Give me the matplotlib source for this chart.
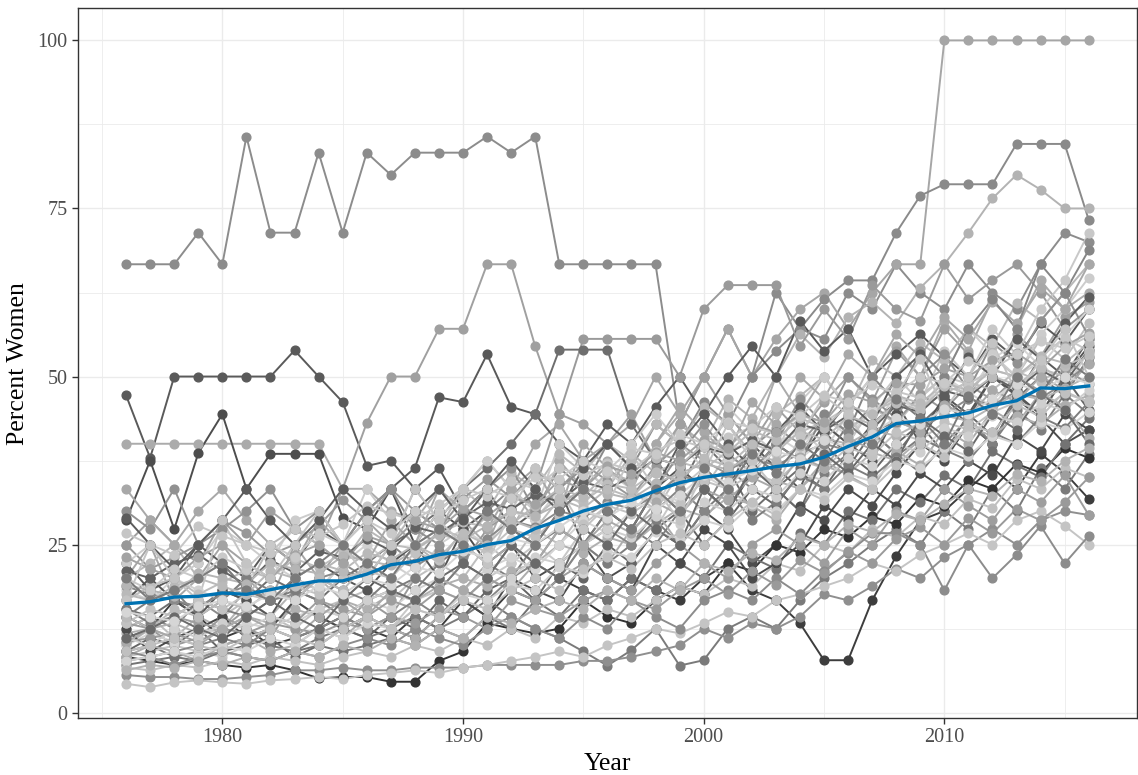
import numpy as np
import matplotlib
matplotlib.use("Agg")
import matplotlib.pyplot as plt
from matplotlib.ticker import MultipleLocator

plt.rcParams['font.family'] = ['Liberation Serif', 'DejaVu Serif']

years = list(range(1976, 2017))

# percent women per department, 1976..2016
dept_01 = [66.7, 66.7, 66.7, 71.4, 66.7, 85.7, 71.4, 71.4, 83.3, 71.4,
           83.3, 80, 83.3, 83.3, 83.3, 85.7, 83.3, 85.7, 66.7, 66.7,
           66.7, 66.7, 66.7, 42.9, 50, 57.1, 50, 62.5, 57.1, 55.6,
           62.5, 60, 66.7, 62.5, 60, 66.7, 62.5, 60, 66.7, 71.4, 70]
dept_02 = [20, 25, 16.7, 20, 25, 20, 16.7, 25, 20, 25,
           28.6, 25, 33.3, 28.6, 33.3, 37.5, 33.3, 40, 42.9, 37.5,
           40, 42.9, 50, 44.4, 50, 57.1, 50, 55.6, 60, 62.5,
           57.1, 62.5, 66.7, 66.7, 100, 100, 100, 100, 100, 100, 100]
dept_03 = [12.5, 14.3, 12.5, 16.7, 14.3, 18.2, 16.7, 20, 18.2, 22.2,
           20, 25, 22.2, 27.3, 25, 30, 33.3, 30, 36.4, 33.3,
           40, 36.4, 42.9, 40, 46.2, 42.9, 50, 53.8, 57.1, 61.5,
           64.3, 64.3, 71.4, 76.9, 78.6, 78.6, 78.6, 84.6, 84.6, 84.6, 73.3]
dept_04 = [10, 12.5, 11.1, 14.3, 12.5, 16.7, 14.3, 18.2, 20, 16.7,
           20, 22.2, 25, 22.2, 27.3, 30, 27.3, 33.3, 30, 36.4,
           33.3, 38.5, 35.7, 42.9, 40, 46.7, 43.8, 50, 56.3, 52.9,
           58.8, 61.1, 57.9, 63.2, 66.7, 71.4, 76.5, 80, 77.8, 75, 75]
dept_05 = [47.2, 37.9, 50, 50, 50, 50, 50, 53.9, 50, 46.2,
           36.7, 37.5, 33.3, 36.4, 30, 33.3, 27.3, 30, 33.3, 25,
           30, 27.3, 33.3, 30, 36.4, 33.3, 40, 36.4, 33.3, 41.7,
           38.5, 42.9, 46.2, 40, 46.7, 43.8, 50, 47.1, 52.9, 50, 55.6]
dept_06 = [40, 40, 40, 40, 40, 40, 40, 40, 40, 33.3,
           33.3, 30, 28.6, 33.3, 28.6, 25, 33.3, 28.6, 37.5, 33.3,
           37.5, 33.3, 40, 44.4, 37.5, 44.4, 40, 50, 44.4, 50,
           45.5, 50, 54.5, 50, 58.3, 53.8, 61.5, 57.1, 64.3, 60, 62.5]
dept_07 = [25, 28.6, 25, 22.2, 28.6, 25, 30, 27.3, 25, 33.3,
           43.1, 50, 50, 57.1, 57.1, 66.7, 66.7, 54.5, 44.4, 42.9,
           40, 44.4, 37.5, 42.9, 50, 44.4, 40, 45.5, 41.7, 46.2,
           50, 46.2, 53.8, 50, 57.1, 53.3, 50, 56.3, 52.9, 58.8, 61.1]
dept_08 = [28.6, 37.5, 27.3, 38.6, 44.4, 33.3, 38.5, 38.5, 38.5, 29,
           27.3, 33.3, 25, 30, 27.3, 22.2, 25, 20, 22.2, 25,
           20, 22.2, 27.3, 25, 30, 27.3, 22.2, 25, 30.8, 28.6,
           33.3, 30.8, 35.7, 40, 37.5, 42.9, 40, 46.7, 43.8, 40, 42.1]
dept_09 = [22.2, 18.2, 20, 25, 22.2, 20, 25, 22.2, 27.3, 25,
           30, 33.3, 36.4, 46.9, 46.2, 53.3, 45.5, 44.4, 40, 37.5,
           42.9, 40, 45.5, 50, 44.4, 50, 54.5, 50, 58.3, 53.8,
           57.1, 50, 53.3, 56.3, 52.9, 50, 55.6, 52.6, 57.9, 55, 60]
dept_10 = [15.4, 14.3, 16.7, 15.4, 18.2, 16.7, 20, 18.2, 16.7, 20,
           22.2, 25, 27.3, 30, 33.3, 36.4, 40, 44.4, 54, 54,
           54, 42.9, 37.5, 33.3, 40, 36.4, 30, 33.3, 36.4, 40,
           36.4, 41.7, 38.5, 42.9, 46.2, 42.9, 40, 46.7, 50, 47.1, 52.9]
dept_11 = [11.1, 12.5, 10, 11.1, 14.3, 12.5, 11.1, 16.7, 14.3, 12.5,
           16.7, 14.3, 20, 18.2, 22.2, 27.3, 30, 33.3, 44.4, 55.6,
           55.6, 55.6, 55.6, 50, 60, 63.6, 63.6, 63.6, 54.5, 60,
           55.6, 63.6, 60, 58.3, 66.7, 61.5, 64.3, 66.7, 62.5, 57.1, 60]
dept_12 = [14.3, 12.5, 16.7, 14.3, 11.1, 12.5, 10, 11.1, 12.5, 14.3,
           12.5, 11.1, 14.3, 12.5, 16.7, 14.3, 18.2, 16.7, 20, 18.2,
           16.7, 20, 18.2, 16.7, 20, 22.2, 18.2, 16.7, 13.3, 7.8,
           7.8, 16.7, 23.3, 28.6, 30, 33.3, 36.4, 33.3, 38.5, 35.7, 31.8]
dept_13 = [9.1, 10, 8.3, 9.1, 10, 11.1, 10, 9.1, 11.1, 12.5,
           11.1, 12.5, 14.3, 12.5, 14.3, 16.7, 14.3, 12.5, 11.1, 9.1,
           7, 9.3, 12.5, 7, 7.8, 12.5, 14.3, 12.5, 16.7, 20,
           22.2, 25, 27.3, 25, 30, 27.3, 33.3, 30, 36.4, 33.3, 38.5]
dept_14 = [8.3, 7.7, 7.1, 7.7, 7.1, 6.7, 7.1, 6.3, 5.1, 5.3,
           5.3, 4.6, 4.6, 7.7, 9.1, 13.3, 12.5, 11.8, 12.5, 16.7,
           14.3, 13.3, 16.7, 18.8, 17.6, 22.2, 21.1, 25, 23.8, 27.3,
           26.1, 29.2, 28, 32, 30.8, 34.6, 33.3, 37, 35.7, 39.3, 37.9]
dept_15 = [5.6, 5.3, 5.3, 5, 5, 5.3, 5.6, 6.3, 6.3, 6.7,
           6.3, 6.3, 6.7, 6.7, 6.7, 7.1, 7.1, 7.1, 7.1, 7.7,
           7.7, 8.3, 9.1, 10, 12.5, 11.1, 13.3, 12.5, 14.3, 17.6,
           16.7, 18.8, 21.4, 20, 23.1, 25, 27.3, 25, 28.6, 30, 29.4]
dept_16 = [4.3, 3.8, 4.5, 4.8, 4.5, 4.3, 4.8, 5, 5.3, 5,
           5.6, 5.9, 6.3, 5.9, 6.7, 7.1, 7.7, 8.3, 9.1, 8.3,
           10, 11.1, 12.5, 11.8, 13.3, 15, 14.3, 16.7, 17.6, 18.8,
           20, 22.2, 21.1, 23.5, 25, 26.7, 25, 28.6, 30, 27.8, 25]
dept_17 = [12.5, 14.3, 11.1, 12.5, 14.3, 16.7, 14.3, 12.5, 15.4, 16.7,
           18.2, 16.7, 20, 22.2, 20, 25, 22.2, 27.3, 25, 30,
           28.6, 33.3, 30, 35.7, 33.3, 38.5, 35.7, 40, 37.5, 42.9,
           40, 45.5, 42.9, 47.1, 50, 46.7, 52.9, 50, 55.6, 52.6, 57.9]
dept_18 = [18.2, 16.7, 20, 18.2, 16.7, 20, 22.2, 20, 18.2, 22.2,
           25, 22.2, 20, 25, 27.3, 25, 30, 28.6, 33.3, 30.8,
           35.7, 33.3, 30.8, 36.4, 40, 37.5, 35.3, 40, 42.1, 38.9,
           44.4, 42.1, 47.4, 45, 50, 47.6, 45.5, 50, 52.2, 48, 53.8]
dept_19 = [9.1, 11.1, 10, 12.5, 9.1, 10, 11.1, 8.3, 10, 12.5,
           11.1, 14.3, 12.5, 16.7, 14.3, 18.2, 20, 16.7, 22.2, 20,
           25, 22.2, 27.3, 30, 25, 28.6, 33.3, 30.8, 35.7, 33.3,
           38.5, 35.7, 40, 42.9, 38.5, 44.4, 41.2, 47.1, 44.4, 50, 45]
dept_20 = [20, 22.2, 25, 20, 22.2, 18.2, 25, 27.3, 25, 22.2,
           27.3, 25, 30, 27.3, 33.3, 30, 35.7, 33.3, 38.5, 35.7,
           40, 37.5, 42.9, 40, 45.5, 42.9, 38.5, 44.4, 47.1, 50,
           45, 52.4, 50, 55, 52.4, 57.1, 54.5, 60.9, 58.3, 62.5, 66.7]
dept_21 = [14.3, 16.7, 18.2, 14.3, 16.7, 20, 18.2, 16.7, 20, 18.2,
           16.7, 20, 18.2, 22.2, 25, 22.2, 20, 25, 27.3, 25,
           30, 27.3, 25, 30, 33.3, 30, 36.4, 33.3, 30, 35.7,
           38.5, 41.7, 38.5, 35.7, 40, 43.8, 40, 45, 42.1, 47.4, 44.4]
dept_22 = [8.3, 9.1, 10, 9.1, 8.3, 10, 12.5, 11.1, 10, 12.5,
           14.3, 12.5, 16.7, 18.2, 16.7, 20, 22.2, 25, 22.2, 27.3,
           25, 30, 27.3, 33.3, 36.4, 33.3, 38.5, 35.7, 40, 42.9,
           40, 45.5, 50, 46.2, 53.8, 50, 57.1, 53.3, 60, 64.3, 71.4]
dept_23 = [25, 21.4, 23.1, 25, 28.6, 26.7, 23.5, 25, 27.8, 31.6,
           28.6, 33.3, 30, 27.3, 31.8, 34.8, 32, 36, 33.3, 37,
           34.5, 32.1, 36.7, 40, 37.5, 35.5, 39.4, 42.4, 40, 44.1,
           41.7, 45.7, 43.2, 47.4, 45, 48.8, 46.5, 50, 47.8, 51.1, 48.9]
dept_24 = [16.7, 20, 16.7, 14.3, 18.2, 16.7, 14.3, 20, 22.2, 20,
           18.2, 22.2, 25, 20, 27.3, 30, 27.3, 25, 30, 33.3,
           30, 27.3, 33.3, 36.4, 33.3, 30, 35.7, 40, 37.5, 42.9,
           40, 37.5, 44.4, 41.2, 47.1, 44.4, 50, 47.4, 44.4, 50, 54.5]
dept_25 = [11.8, 12.5, 13.3, 11.8, 12.5, 14.3, 13.3, 15.4, 14.3, 16.7,
           15.4, 17.6, 16.7, 18.8, 20, 18.8, 21.1, 22.2, 25, 23.8,
           26.1, 25, 28, 30.4, 29.2, 32, 31, 34.5, 33.3, 36.7,
           35.5, 38.7, 37.5, 40.6, 39.4, 42.4, 41.2, 44.1, 42.9, 45.7, 47.2]
dept_26 = [22.2, 25, 20, 22.2, 27.3, 25, 22.2, 28.6, 30, 25,
           33.3, 28.6, 25, 30, 33.3, 37.5, 33.3, 30, 40, 36.4,
           33.3, 40, 44.4, 40, 36.4, 45.5, 41.7, 38.5, 46.2, 50,
           45.5, 50, 46.2, 53.8, 50, 57.1, 53.3, 50, 56.3, 60, 64.7]
dept_27 = [7.1, 7.7, 8.3, 7.7, 9.1, 8.3, 7.7, 9.1, 10, 9.1,
           10, 11.1, 10, 12.5, 11.1, 14.3, 12.5, 16.7, 14.3, 18.2,
           16.7, 20, 18.2, 22.2, 20, 25, 23.1, 21.4, 26.7, 25,
           30, 28.6, 33.3, 31.3, 35.3, 33.3, 38.9, 36.8, 35, 40, 43.8]
dept_28 = [33.3, 28.6, 25, 30, 33.3, 28.6, 25, 22.2, 28.6, 25,
           22.2, 28.6, 25, 33.3, 30, 27.3, 33.3, 36.4, 30, 40,
           36.4, 33.3, 40, 45.5, 41.7, 38.5, 46.2, 42.9, 50, 46.7,
           53.3, 50, 56.3, 52.9, 58.8, 55.6, 61.1, 57.9, 63.2, 60, 66.7]
dept_29 = [6.7, 6.3, 7.1, 6.7, 7.7, 7.1, 8.3, 7.7, 7.1, 8.3,
           9.1, 8.3, 10, 9.1, 11.1, 10, 12.5, 11.1, 14.3, 13.3,
           15.4, 14.3, 16.7, 18.8, 17.6, 20, 18.8, 22.2, 21.1, 25,
           23.8, 27.3, 26.1, 29.2, 28, 31.8, 30.4, 34.8, 33.3, 36.4, 35]
dept_30 = [18.8, 17.6, 16.7, 15.8, 17.6, 18.8, 16.7, 17.6, 20, 21.1,
           20, 22.7, 21.7, 24, 23.1, 25.9, 28.6, 27.6, 30, 29,
           31.3, 30.3, 32.4, 35.3, 34.3, 36.1, 37.8, 36.8, 38.5, 40,
           39, 41.9, 43.2, 42.2, 44.4, 46.7, 45.7, 47.8, 46.8, 49, 52]
dept_31 = [12.5, 9.1, 11.1, 12.5, 14.3, 11.1, 12.5, 16.7, 14.3, 12.5,
           14.3, 12.5, 11.1, 14.3, 16.7, 14.3, 20, 18.2, 16.7, 22.2,
           20, 18.2, 25, 22.2, 27.3, 25, 20, 22.2, 25, 30.8,
           28.6, 33.3, 30.8, 35.7, 33.3, 37.5, 35.3, 41.2, 38.9, 44.4, 42.1]
dept_32 = [16.7, 18.8, 20, 17.6, 19.4, 21.2, 20, 22.9, 21.6, 23.7,
           22.5, 25, 24.4, 26.7, 28.3, 27.7, 30, 29.2, 32, 31.4,
           34, 33.3, 35.8, 37.3, 36.2, 38.9, 40.4, 39.3, 41.7, 43.3,
           42.1, 44.8, 46.4, 45.5, 47.5, 49.2, 48, 50.8, 49.2, 51.6, 53.1]
dept_33 = [30, 27.3, 33.3, 25, 27.3, 30, 33.3, 27.3, 30, 25,
           30, 33.3, 27.3, 25, 30, 33.3, 36.4, 30, 33.3, 36.4,
           40, 36.4, 33.3, 38.5, 42.9, 38.5, 35.7, 40, 46.7, 42.9,
           50, 46.7, 43.8, 50, 53.3, 48, 55, 52, 58.3, 62.5, 56]
dept_34 = [10, 11.8, 10.5, 12.5, 11.8, 13.3, 12.5, 14.3, 15.4, 14.3,
           16.7, 15.4, 18.2, 20, 18.2, 21.4, 23.1, 21.4, 25, 28.6,
           26.7, 30, 33.3, 31.3, 35.3, 33.3, 37.5, 41.2, 38.9, 43.8,
           41.2, 45, 47.4, 44.4, 50, 47.4, 52.6, 55, 51.5, 56, 60]
dept_35 = [21.1, 20, 22.2, 23.5, 21.1, 19, 22.7, 20.8, 24, 23.1,
           25.9, 24.1, 27.6, 26.7, 29, 31.3, 30.3, 32.4, 31.4, 34.3,
           33.3, 35.1, 37.8, 36.8, 39.5, 38.5, 40.5, 39, 42.9, 41.9,
           44.2, 42.2, 45.7, 44.7, 47.9, 46.9, 50, 48, 51, 49, 54]
dept_36 = [8.3, 10, 9.1, 7.7, 10, 11.1, 9.1, 10, 12.5, 11.1,
           14.3, 12.5, 11.1, 14.3, 16.7, 20, 18.2, 22.2, 20, 25,
           22.2, 27.3, 30, 25, 28.6, 33.3, 30.8, 28.6, 33.3, 37.5,
           35.3, 33.3, 38.9, 36.8, 42.1, 40, 45, 42.9, 47.6, 45.5, 40.9]
dept_37 = [15.4, 13.3, 14.3, 16.7, 15.4, 14.3, 16.7, 18.2, 16.7, 14.3,
           16.7, 18.2, 20, 18.2, 22.2, 20, 25, 22.2, 27.3, 25,
           22.2, 25, 28.6, 25, 30, 33.3, 28.6, 31.3, 35.3, 33.3,
           36.8, 35, 38.1, 40.9, 39.1, 37.5, 41.7, 40, 44, 42.3, 46.2]
dept_38 = [26.7, 25, 23.5, 27.8, 26.3, 25, 23.8, 27.3, 26.1, 28,
           30.8, 29.6, 28.6, 31, 33.3, 32.3, 34.4, 33.3, 36.4, 35.3,
           37.1, 36.1, 38.9, 40.5, 39.5, 41, 42.5, 41.5, 44.2, 43.2,
           45.5, 44.4, 47.8, 46.8, 50, 48.9, 51, 50, 52.9, 55.8, 53.8]
dept_39 = [13.3, 12.5, 14.3, 13.3, 12.5, 15.4, 14.3, 13.3, 16.7, 15.4,
           14.3, 16.7, 15.4, 18.2, 16.7, 20, 18.2, 16.7, 20, 22.2,
           20, 18.2, 22.2, 25, 22.2, 20, 25, 27.3, 25, 22.2,
           27.3, 25, 30, 28.6, 33.3, 30.8, 28.6, 33.3, 31.3, 35.3, 29.4]
dept_40 = [9.1, 8.3, 9.1, 10, 11.1, 10, 12.5, 11.1, 12.5, 14.3,
           12.5, 14.3, 16.7, 14.3, 18.2, 16.7, 20, 22.2, 20, 25,
           27.3, 25, 30, 33.3, 30, 36.4, 33.3, 40, 37.5, 44.4,
           41.7, 50, 46.2, 53.8, 50, 57.1, 61.5, 57.1, 66.7, 62.5, 68.8]
dept_41 = [7.7, 8.3, 7.1, 8.3, 9.1, 8.3, 7.7, 9.1, 8.3, 10,
           11.1, 10, 12.5, 11.1, 10, 12.5, 14.3, 12.5, 11.1, 14.3,
           12.5, 16.7, 14.3, 12.5, 16.7, 18.2, 16.7, 20, 17.6, 21.1,
           23.8, 26.7, 26.7, 25, 18.2, 25, 20, 23.5, 27.8, 22.2, 26.3]
dept_42 = [10.5, 11.1, 11.8, 10.5, 12.5, 11.8, 13.3, 12.5, 11.8, 13.3,
           12.5, 14.3, 13.3, 15.4, 14.3, 12.5, 16.7, 15.4, 14.3, 16.7,
           18.2, 16.7, 15.4, 18.2, 20, 17.6, 21.1, 19, 22.7, 20.8,
           24, 22.2, 25.9, 27.6, 25, 29, 26.7, 30.3, 28.6, 31.3, 35]
dept_43 = [29, 25, 21.4, 25, 28.6, 33.3, 28.6, 25, 28.6, 33.3,
           30, 27.3, 30, 33.3, 28.6, 33.3, 37.5, 33.3, 30, 36.4,
           40, 36.4, 33.3, 40, 44.4, 40, 36.4, 41.7, 45.5, 41.7,
           46.2, 42.9, 50, 53.3, 47.1, 52.9, 50, 55.6, 52.6, 57.9, 61.9]
dept_44 = [19, 18.2, 17.4, 20.8, 20, 19.2, 22.2, 21.4, 20.7, 23.3,
           22.6, 21.9, 24.2, 26.5, 25.7, 27.8, 30, 29.3, 31, 33.3,
           32.6, 31.8, 34.1, 35.6, 37, 36.2, 38.3, 37.5, 39.6, 40.8,
           40, 42, 41.2, 43.1, 44.2, 43.4, 45.5, 47.4, 46.6, 48.3, 50]
dept_45 = [13.3, 15.4, 14.3, 16.7, 15.4, 17.6, 16.7, 18.8, 17.6, 20,
           21.1, 20, 23.8, 22.7, 25, 24, 27.3, 26.1, 29.2, 28,
           30.8, 29.6, 32.1, 31, 34.5, 33.3, 35.5, 34.4, 37.5, 36.4,
           39.4, 38.2, 41.7, 40.5, 43.2, 42.1, 44.7, 46.2, 45, 47.5, 46.3]
dept_46 = [17.6, 16.7, 18.8, 20, 18.8, 17.6, 21.1, 20, 22.2, 21.1,
           23.8, 22.7, 25, 27.3, 26.1, 29.2, 28, 30.8, 33.3, 32.1,
           35.7, 34.5, 37.9, 36.7, 40, 38.7, 41.9, 40.6, 43.8, 42.4,
           45.7, 44.4, 47.2, 46, 49, 48, 51, 50, 53, 52, 55]
dept_47 = [11.1, 10, 12.5, 11.1, 13.3, 12.5, 14.3, 13.3, 15.4, 14.3,
           16.7, 18.2, 16.7, 20, 18.2, 21.4, 20, 23.1, 22.2, 25,
           27.3, 26.1, 29.2, 28, 31.3, 30, 33.3, 32.1, 35.7, 34.5,
           37.9, 36.7, 40, 38.7, 42.4, 41.2, 44.1, 43.2, 46, 45, 48]
dept_48 = [23.1, 21.4, 20, 23.1, 25, 22.2, 20, 23.5, 25, 22.2,
           26.3, 25, 28.6, 27.3, 30.4, 29.2, 32, 31, 34.6, 33.3,
           36.7, 35.5, 38.7, 37.5, 40.6, 39.4, 42.9, 41.7, 44.4, 43.2,
           47.4, 46.2, 49, 48.8, 51.2, 50, 52.4, 53.5, 51.1, 54.5, 56.5]
dept_49 = [7.7, 8.3, 9.1, 8.3, 10, 9.1, 11.1, 10, 12.5, 11.1,
           13.3, 12.5, 15.4, 14.3, 17.6, 16.7, 19, 18.2, 21.7, 20.8,
           24, 23.1, 26.9, 25.9, 28.6, 27.6, 31, 30, 33.3, 32.3,
           35.5, 34.4, 37.5, 36.4, 39.4, 38.2, 41.2, 40, 43.2, 42.1, 44.7]
dept_50 = [14.3, 12.5, 15.4, 14.3, 16.7, 15.4, 18.2, 16.7, 20, 18.2,
           22.2, 20, 25, 23.1, 26.7, 25, 28.6, 27.3, 31.8, 30.4,
           33.3, 32, 35.7, 34.5, 37.9, 36.7, 40, 38.7, 41.9, 40.6,
           44.1, 42.9, 46, 45, 48.6, 47.4, 50, 48.8, 51.2, 50, 53.5]
dept_51 = [10.5, 12.5, 11.1, 10, 12.5, 14.3, 12.5, 11.1, 14.3, 16.7,
           14.3, 18.2, 16.7, 20, 18.2, 22.2, 25, 22.2, 27.3, 25,
           28.6, 26.7, 31.3, 29.4, 33.3, 31.6, 35, 33.3, 38.1, 36.4,
           40.9, 39.1, 43.5, 41.7, 45.8, 44, 48, 46.2, 50, 48.1, 51.9]
dept_52 = [20, 18.2, 21.4, 20, 23.1, 21.4, 25, 23.1, 26.7, 25,
           28.6, 26.7, 30, 29.4, 31.6, 33.3, 32, 35, 34.8, 37.5,
           36, 39.3, 38.5, 41.4, 40, 43.3, 42.4, 45.5, 44.1, 47.2,
           46.2, 48.7, 47.5, 50, 49, 52.3, 51.1, 53.3, 55.3, 54.2, 56]
dept_53 = [11.1, 12.5, 14.3, 12.5, 11.1, 14.3, 16.7, 14.3, 12.5, 16.7,
           20, 18.2, 16.7, 20, 22.2, 20, 25, 22.2, 20, 27.3,
           25, 30, 27.3, 25, 33.3, 30, 36.4, 33.3, 30, 38.5,
           35.7, 40, 37.5, 43.8, 41.2, 38.9, 44.4, 42.1, 47.4, 45, 40]
dept_54 = [16.7, 25, 20, 16.7, 28.6, 22.2, 20, 25, 30, 25,
           20, 25, 33.3, 28.6, 25, 22.2, 30, 36.4, 33.3, 27.3,
           30.8, 38.5, 33.3, 28.6, 35.7, 42.9, 37.5, 33.3, 41.2, 47.1,
           44.4, 38.9, 47.4, 52.6, 45, 50, 55, 47.6, 52.4, 57.1, 50]
dept_55 = [6.3, 7.1, 6.7, 7.7, 7.1, 8.3, 7.7, 9.1, 8.3, 10,
           9.1, 11.1, 10, 12.5, 11.1, 14.3, 13.3, 15.4, 16.7, 15.4,
           18.2, 16.7, 20, 18.2, 22.2, 21.1, 23.8, 22.7, 26.1, 25,
           28, 26.9, 29.6, 28.6, 31, 33.3, 32.3, 35.5, 34.4, 37.5, 39.4]
dept_56 = [15, 14.3, 13.6, 15.8, 16.7, 15.8, 17.6, 16.7, 18.8, 17.6,
           20, 19, 21.7, 20.8, 24, 23.1, 25.9, 25, 27.6, 30,
           29, 31.3, 30.3, 32.4, 35.3, 34.3, 36.1, 38.9, 37.8, 40.5,
           39.5, 41.5, 43.9, 42.9, 45.2, 44.4, 46.7, 48.9, 47.8, 50, 49]
dept_57 = [20, 16.7, 18.2, 20, 22.2, 18.2, 16.7, 20, 22.2, 25,
           22.2, 20, 25, 27.3, 25, 30, 27.3, 25, 30, 33.3,
           30, 27.3, 33.3, 30, 36.4, 33.3, 38.5, 35.7, 40, 37.5,
           42.9, 40, 46.7, 43.8, 40, 47.1, 44.4, 50, 47.4, 52.6, 50]
dept_58 = [9.1, 10, 11.1, 10, 9.1, 11.1, 12.5, 11.1, 10, 12.5,
           14.3, 12.5, 15.4, 14.3, 16.7, 15.4, 18.2, 20, 18.2, 21.4,
           23.1, 21.4, 25, 26.7, 25, 28.6, 31.3, 29.4, 33.3, 31.6,
           35, 33.3, 36.8, 40, 38.1, 42.9, 41.7, 45.8, 44, 47.8, 46.2]

# overall average across departments
mean_pct = [16.2, 16.5, 17.2, 17.3, 17.8, 17.6, 18.3, 19, 19.6, 19.6,
            20.6, 22, 22.5, 23.5, 24, 25, 25.6, 27.4, 28.6, 30,
            31, 31.6, 33, 34.2, 35, 35.5, 36, 36.6, 37, 38,
            39.6, 41, 43, 43.4, 44, 44.6, 45.7, 46.4, 48.3, 48.2, 48.6]

depts = [dept_01, dept_02, dept_03, dept_04, dept_05, dept_06, dept_07, dept_08,
         dept_09, dept_10, dept_11, dept_12, dept_13, dept_14, dept_15, dept_16,
         dept_17, dept_18, dept_19, dept_20, dept_21, dept_22, dept_23, dept_24,
         dept_25, dept_26, dept_27, dept_28, dept_29, dept_30, dept_31, dept_32,
         dept_33, dept_34, dept_35, dept_36, dept_37, dept_38, dept_39, dept_40,
         dept_41, dept_42, dept_43, dept_44, dept_45, dept_46, dept_47, dept_48,
         dept_49, dept_50, dept_51, dept_52, dept_53, dept_54, dept_55, dept_56,
         dept_57, dept_58]
greys = ['#8c8c8c', '#a6a6a6', '#8a8a8a', '#b3b3b3', '#5a5a5a', '#ababab',
         '#a0a0a0', '#4d4d4d', '#595959', '#6e6e6e', '#9a9a9a', '#3d3d3d',
         '#7a7a7a', '#333333', '#8f8f8f', '#c4c4c4', '#bfbfbf', '#d0d0d0',
         '#666666', '#b8b8b8', '#7f7f7f', '#c8c8c8', '#989898', '#555555',
         '#b0b0b0', '#cccccc', '#737373', '#a8a8a8', '#c0c0c0', '#8a8a8a',
         '#4a4a4a', '#bdbdbd', '#919191', '#d4d4d4', '#626262', '#adadad',
         '#7d7d7d', '#c6c6c6', '#9e9e9e', '#868686', '#8c8c8c', '#9a9a9a',
         '#5c5c5c', '#b5b5b5', '#c2c2c2', '#b9b9b9', '#cfcfcf', '#a3a3a3',
         '#d2d2d2', '#bbbbbb', '#a9a9a9', '#c9c9c9', '#6a6a6a', '#c4c4c4',
         '#b2b2b2', '#d6d6d6', '#7b7b7b', '#c0c0c0']

fig = plt.figure(figsize=(11.38, 7.75), dpi=100)
ax = fig.add_axes([0.0685, 0.0735, 0.9305, 0.916])

for d, c in zip(depts, greys):
    ax.plot(years, d, color=c, lw=1.4, zorder=2)
for d, c in zip(depts, greys):
    ax.plot(years, d, ls='none', marker='o', ms=6.3, color=c, mec=c, zorder=3)

ax.plot(years, mean_pct, color='#0072B2', lw=2.4, zorder=5)

ax.set_xlim(1974, 2018)
ax.set_ylim(-0.8, 104.8)
ax.xaxis.set_major_locator(MultipleLocator(10))
ax.xaxis.set_minor_locator(MultipleLocator(5))
ax.yaxis.set_major_locator(MultipleLocator(25))
ax.yaxis.set_minor_locator(MultipleLocator(12.5))
ax.grid(which='major', color='#ebebeb', lw=1.0, zorder=0)
ax.grid(which='minor', color='#ebebeb', lw=0.6, zorder=0)
ax.set_axisbelow(True)
ax.tick_params(which='minor', length=0)
ax.tick_params(which='major', length=4, width=1, color='#333333',
               labelsize=14.5, labelcolor='#4d4d4d')
for s in ax.spines.values():
    s.set_color('#333333')
    s.set_linewidth(1.0)

ax.set_xlabel('Year', fontsize=18.5, labelpad=4)
ax.set_ylabel('Percent Women', fontsize=18.5, labelpad=6)

fig.savefig('out.png', dpi=100)
